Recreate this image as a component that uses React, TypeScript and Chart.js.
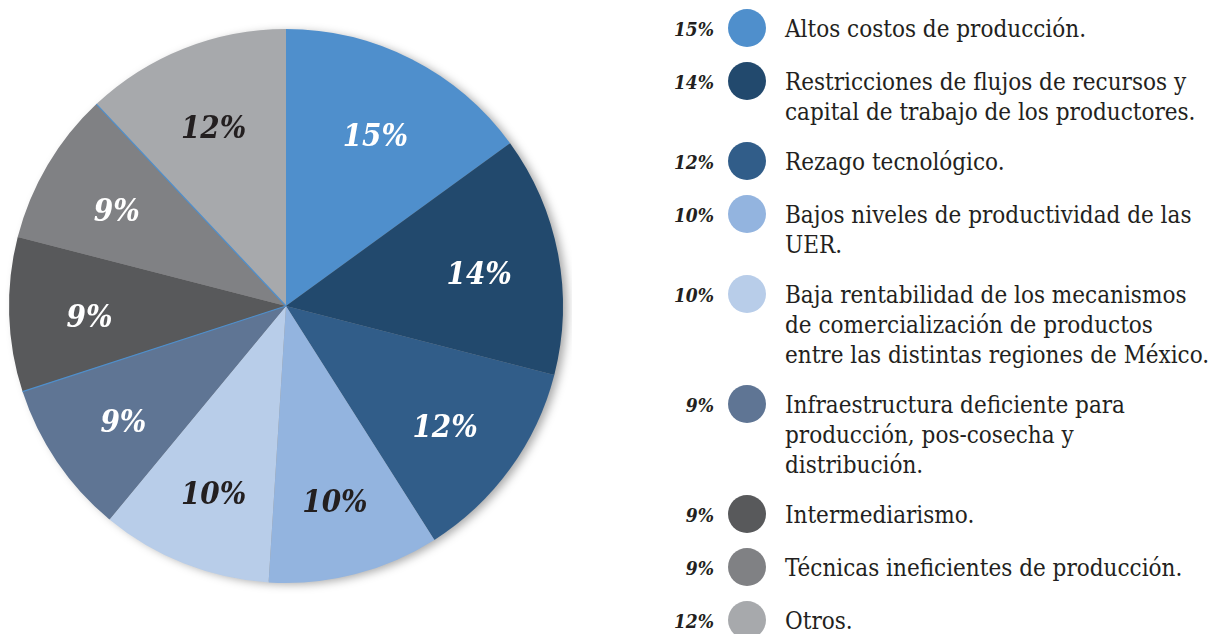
import React, { useEffect, useRef } from "react";
import { Chart, registerables } from "chart.js";

Chart.register(...registerables);

const categories = [
  "Altos costos de producción.",
  "Restricciones de flujos de recursos y\ncapital de trabajo de los productores.",
  "Rezago tecnológico.",
  "Bajos niveles de productividad de las\nUER.",
  "Baja rentabilidad de los mecanismos\nde comercialización de productos\nentre las distintas regiones de México.",
  "Infraestructura deficiente para\nproducción, pos-cosecha y\ndistribución.",
  "Intermediarismo.",
  "Técnicas ineficientes de producción.",
  "Otros.",
];
const values = [15, 14, 12, 10, 10, 9, 9, 9, 12];
const valueLabels = ["15%", "14%", "12%", "10%", "10%", "9%", "9%", "9%", "12%"];
const colors = [
  "#4f8fcc",
  "#22496d",
  "#315d89",
  "#93b4df",
  "#b8cde9",
  "#5f7594",
  "#58595b",
  "#808184",
  "#a7a9ac",
];
const labelColors = [
  "#ffffff",
  "#ffffff",
  "#ffffff",
  "#231f20",
  "#231f20",
  "#ffffff",
  "#ffffff",
  "#ffffff",
  "#231f20",
];
const seamIndexes = [6, 8];

const LABEL_FONT = "'DejaVu Serif Condensed', 'DejaVu Serif', serif";

const piePlugin = {
  id: "pieDecor",
  beforeDatasetsDraw(chart: any) {
    const meta = chart.getDatasetMeta(0);
    const arc = meta.data[0];
    if (!arc) return;
    const { x, y, outerRadius } = arc.getProps(["x", "y", "outerRadius"], true);
    const ctx = chart.ctx;
    ctx.save();
    ctx.shadowColor = "rgba(0,0,0,0.35)";
    ctx.shadowBlur = 10;
    ctx.shadowOffsetX = 5;
    ctx.shadowOffsetY = 2;
    ctx.beginPath();
    ctx.arc(x, y, outerRadius - 1, 0, Math.PI * 2);
    ctx.fillStyle = "#888";
    ctx.fill();
    ctx.restore();
  },
  afterDatasetsDraw(chart: any) {
    const meta = chart.getDatasetMeta(0);
    const ctx = chart.ctx;
    ctx.save();
    seamIndexes.forEach((i) => {
      const el = meta.data[i];
      const { x, y, outerRadius, startAngle } = el.getProps(
        ["x", "y", "outerRadius", "startAngle"],
        true
      );
      ctx.beginPath();
      ctx.moveTo(x, y);
      ctx.lineTo(x + Math.cos(startAngle) * outerRadius, y + Math.sin(startAngle) * outerRadius);
      ctx.strokeStyle = "#4f8fcc";
      ctx.lineWidth = 1.2;
      ctx.stroke();
    });
    ctx.textAlign = "center";
    ctx.textBaseline = "middle";
    ctx.font = `italic bold 31px ${LABEL_FONT}`;
    meta.data.forEach((el: any, i: number) => {
      const { x, y, outerRadius, startAngle, endAngle } = el.getProps(
        ["x", "y", "outerRadius", "startAngle", "endAngle"],
        true
      );
      const mid = (startAngle + endAngle) / 2;
      const r = outerRadius * 0.71;
      ctx.fillStyle = labelColors[i];
      ctx.fillText(valueLabels[i], x + Math.cos(mid) * r, y + Math.sin(mid) * r + 7);
    });
    ctx.restore();
  },
};

function PieChart() {
  const ref = useRef<HTMLCanvasElement | null>(null);
  useEffect(() => {
    if (!ref.current) return;
    const chart = new Chart(ref.current, {
      type: "pie",
      data: {
        labels: categories,
        datasets: [
          {
            data: values,
            backgroundColor: colors,
            borderWidth: 0,
          },
        ],
      },
      options: {
        animation: false,
        responsive: false,
        maintainAspectRatio: false,
        layout: { padding: 9 },
        plugins: {
          legend: { display: false },
          tooltip: { enabled: false },
        },
      },
      plugins: [piePlugin],
    });
    return () => chart.destroy();
  }, []);
  return (
    <canvas
      ref={ref}
      width={572}
      height={612}
      style={{ position: "absolute", left: 0, top: 0, width: 572, height: 612 }}
    />
  );
}

function Legend() {
  return (
    <div style={{ position: "absolute", left: 640, top: 9, width: 571 }}>
      {categories.map((c, i) => (
        <div
          key={i}
          style={{ display: "flex", alignItems: "flex-start", marginBottom: 15 }}
        >
          <div
            style={{
              width: 74,
              textAlign: "right",
              font: `italic bold 19px ${LABEL_FONT}`,
              color: "#231f20",
              lineHeight: "40px",
              height: 38,
              flex: "none",
            }}
          >
            {valueLabels[i]}
          </div>
          <div
            style={{
              width: 38,
              height: 38,
              borderRadius: "50%",
              background: colors[i],
              marginLeft: 14,
              flex: "none",
            }}
          />
          <div
            style={{
              marginLeft: 19,
              marginTop: 5,
              whiteSpace: "pre-line",
              font: `24px ${LABEL_FONT}`,
              lineHeight: "30px",
              color: "#231f20",
            }}
          >
            {c}
          </div>
        </div>
      ))}
    </div>
  );
}

export default function App() {
  return (
    <div
      style={{
        position: "fixed",
        left: 0,
        top: 0,
        width: 1211,
        height: 634,
        background: "#ffffff",
        overflow: "hidden",
      }}
    >
      <PieChart />
      <Legend />
    </div>
  );
}
